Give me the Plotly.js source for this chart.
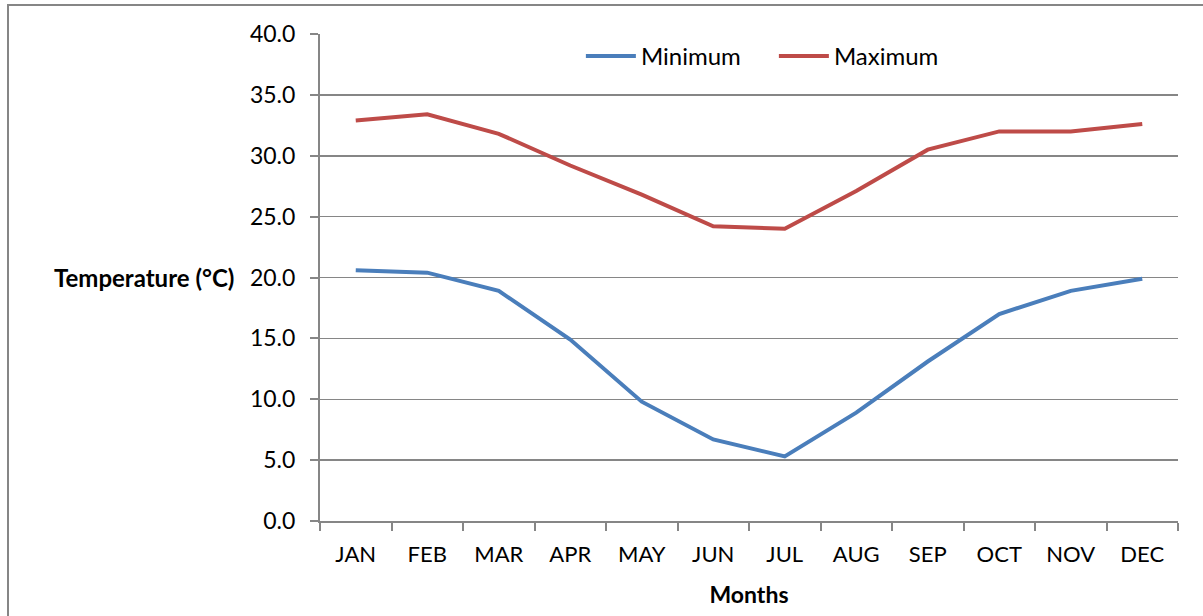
<!DOCTYPE html>
<html>
<head>
<meta charset="utf-8">
<script src="https://cdn.plot.ly/plotly-3.0.1.min.js"></script>
<style>
html,body{margin:0;padding:0;background:#fff;}
#wrap{position:relative;width:1203px;height:616px;overflow:hidden;}
#frame{position:absolute;left:7px;top:4px;width:1300px;height:700px;border-left:2px solid #868686;border-top:2px solid #868686;pointer-events:none;}
#chart{position:absolute;left:0;top:0;width:1203px;height:616px;}
</style>
</head>
<body>
<div id="wrap">
<div id="chart"></div>
<div id="frame"></div>
</div>
<script>
var months = ["JAN","FEB","MAR","APR","MAY","JUN","JUL","AUG","SEP","OCT","NOV","DEC"];
var minimum = [20.6, 20.4, 18.9, 14.9, 9.8, 6.7, 5.3, 8.9, 13.1, 17.0, 18.9, 19.9];
var maximum = [32.9, 33.4, 31.8, 29.2, 26.8, 24.2, 24.0, 27.1, 30.5, 32.0, 32.0, 32.6];
var yTicks = [0, 5, 10, 15, 20, 25, 30, 35, 40];
var yTickLabels = yTicks.map(function(v){return v.toFixed(1);});

var font = "Lato, 'Open Sans', sans-serif";
var grid = "#868686";

var traces = [
  {x: months, y: minimum, name: "Minimum", type: "scatter", mode: "lines",
   line: {color: "#4A7EBB", width: 4}},
  {x: months, y: maximum, name: "Maximum", type: "scatter", mode: "lines",
   line: {color: "#BE4B48", width: 4}}
];

var layout = {
  width: 1203, height: 616,
  margin: {l: 320, r: 25, t: 34, b: 95},
  paper_bgcolor: "#fff", plot_bgcolor: "#fff",
  font: {family: font, size: 22, color: "#000"},
  showlegend: true,
  legend: {orientation: "h", x: 0.529, xanchor: "center", y: 1.0, yanchor: "top",
           font: {family: font, size: 24, color: "#000"}, bgcolor: "rgba(0,0,0,0)",
           itemwidth: 50, entrywidth: 128, entrywidthmode: "pixels", traceorder: "normal"},
  xaxis: {type: "category", range: [-0.5, 11.5], tickson: "boundaries",
          ticks: "outside", ticklen: 8, tickwidth: 2, tickcolor: grid,
          showline: true, linecolor: grid, linewidth: 2,
          showgrid: false, zeroline: false, fixedrange: true, ticklabelstandoff: 13,
          tickfont: {family: font, size: 22, color: "#000"},
          title: {text: "<b>Months</b>", font: {family: font, size: 23, color: "#000"}, standoff: 20}},
  yaxis: {range: [0, 40], tickvals: yTicks, ticktext: yTickLabels,
          ticks: "outside", ticklen: 8, tickwidth: 2, tickcolor: grid,
          showline: true, linecolor: grid, linewidth: 2,
          showgrid: true, gridcolor: grid, gridwidth: 1.5,
          zeroline: false, fixedrange: true, ticklabelstandoff: 10,
          tickfont: {family: font, size: 23, color: "#000"}},
  annotations: [
    {text: "<b>Temperature (°C)</b>", xref: "paper", yref: "y", x: 0, y: 20,
     xanchor: "right", yanchor: "middle", xshift: -84, showarrow: false,
     font: {family: font, size: 24, color: "#000"}}
  ]
};

Plotly.newPlot("chart", traces, layout, {displayModeBar: false, staticPlot: true});
</script>
</body>
</html>
